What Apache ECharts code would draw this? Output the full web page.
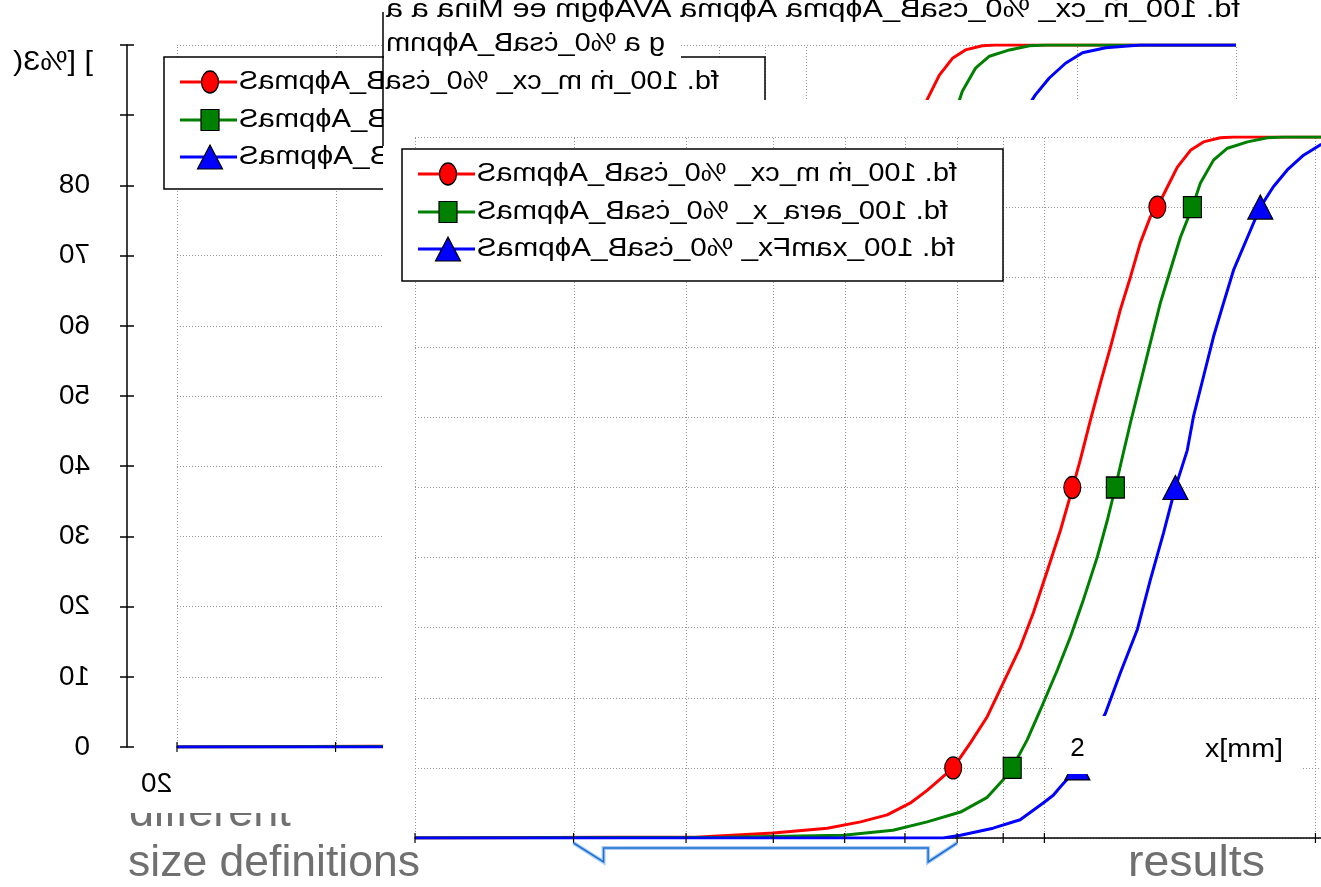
<!DOCTYPE html>
<html>
<head>
<meta charset="utf-8">
<script src="https://cdn.jsdelivr.net/npm/echarts@6/dist/echarts.min.js"></script>
<style>html,body{margin:0;padding:0;background:#fff;}#c{width:1321px;height:887px;}</style>
</head>
<body>
<div id="c"></div>
<script>
// ---------------- data ----------------
const sizeA = [0.2, 0.33, 0.41, 0.5, 0.574, 0.625, 0.669, 0.71, 0.741, 0.792, 0.828, 0.864, 0.9, 0.94, 0.972, 1.008, 1.042, 1.074, 1.096, 1.125, 1.154, 1.184, 1.214, 1.246, 1.278, 1.311, 1.335, 1.37, 1.405, 1.453, 1.502, 1.568, 1.622, 3];
const q3A   = [0, 0.1, 0.1, 0.7, 1.4, 2.3, 3.3, 5.0, 6.8, 10.0, 13.6, 17.3, 22.1, 27.2, 32.1, 38.2, 43.9, 49.8, 53.9, 59.6, 64.9, 70.0, 75.3, 80.0, 84.9, 88.6, 90.0, 92.9, 95.7, 98.1, 99.3, 99.9, 100, 100];
const sizeB = [0.2, 0.444, 0.598, 0.679, 0.741, 0.807, 0.864, 0.9, 0.921, 0.957, 0.99, 1.034, 1.069, 1.105, 1.145, 1.175, 1.199, 1.222, 1.246, 1.278, 1.311, 1.345, 1.38, 1.416, 1.46, 1.49, 1.541, 1.597, 1.681, 1.769, 1.843, 3];
const q3B   = [0, 0.1, 0.4, 1.1, 2.3, 3.7, 5.8, 8.3, 10.0, 14.0, 18.3, 24.0, 28.7, 34.0, 40.1, 45.4, 50.0, 54.6, 59.2, 64.9, 70.6, 76.3, 81.0, 85.7, 90.0, 93.4, 96.7, 98.4, 99.3, 99.9, 100, 100];
const sizeC = [0.2, 0.772, 0.807, 0.877, 0.94, 0.997, 1.023, 1.042, 1.088, 1.169, 1.214, 1.268, 1.311, 1.356, 1.398, 1.441, 1.464, 1.502, 1.541, 1.581, 1.622, 1.681, 1.737, 1.796, 1.861, 1.94, 2.026, 2.15, 2.35, 3];
const q3C   = [0, 0, 0.4, 1.4, 2.6, 5.0, 6.1, 7.3, 10.0, 17.8, 23.5, 29.7, 36.8, 43.5, 50.0, 55.3, 60.1, 65.8, 71.5, 76.3, 81.0, 85.7, 90.0, 92.9, 95.3, 97.4, 98.9, 99.6, 100, 100];

const markerQ3 = [10, 50, 90];
const markerA = [0.792, 1.074, 1.335];
const markerB = [0.921, 1.199, 1.46];
const markerC = [1.088, 1.398, 1.737];

const gridSizes = [0.2, 0.3, 0.4, 0.5, 0.6, 0.7, 0.8, 0.9, 1, 2, 3];
const bgYLabelValues = [0, 10, 20, 30, 40, 50, 60, 70, 80];
const bgYLabelMirrored = [true, true, true, true, true, true, true, true, false];
const bgXLabelLeft = '20';      // drawn mirrored under x = 0.2
const bgXLabelMid = '2';        // at x = 2
const bgXLabelMidValue = 2;
const xAxisName = 'x[mm]';
const yAxisName = '] [%3(';     // drawn mirrored
const legendNames = ['fd. 100_ṁ m_cx_ %0_ċsaB_AɸpmaS', 'fd. 100_aera_x_ %0_ċsaB_AɸpmaS', 'fd. 100_xamFx_ %0_ċsaB_AɸpmaS'];
const titleText = 'fd. 100_ṁ_cx_ %0_ċsaB_Aɸpma Aɸpma AVAɸgm ee Mina a a';
const subtitleText = 'g a %0_ċsaB_Aɸpnm';
const noteLeft = ['different', 'size definitions'];
const noteRight = 'results';
const bracketFrom = 0.3, bracketTo = 0.8;

// ---------------- layout / style ----------------
const FONT = 'Liberation Sans';
const BG = {left: 177, top: 45, width: 1059, height: 702};
const DX = 238, DY = 92;
const IN = {left: BG.left + DX, top: BG.top + DY, width: BG.width, height: 701};
const LEG = {x: 402, y: 149, w: 601, h: 132, rows: [174, 212, 249], lx1: 418, lx2: 475, mx: 448, tx: 477, tr: [957, 948, 955]};
const GRIDCOL = '#959595';

const samples = [
  {x: sizeA, y: q3A, mx: markerA, color: '#ff0000', symbol: 'circle', size: [17, 22]},
  {x: sizeB, y: q3B, mx: markerB, color: '#008000', symbol: 'rect', size: [18, 21]},
  {x: sizeC, y: q3C, mx: markerC, color: '#0000ff', symbol: 'triangle', size: [25, 24]}
];

const chart = echarts.init(document.getElementById('c'), null, {renderer: 'canvas', width: 1321, height: 887});

function xAxisDef(gi, z) {
  return {type: 'log', logBase: 10, gridIndex: gi, min: 0.2, max: 3, z: z,
    axisLine: {show: true, onZero: false, lineStyle: {color: '#000', width: 1.5}},
    axisTick: {show: false}, axisLabel: {show: false}, splitLine: {show: false}, minorTick: {show: false}, minorSplitLine: {show: false}};
}
function gridLineSeries(xi, yi, z) {
  return {type: 'custom', xAxisIndex: xi, yAxisIndex: yi, z: z, silent: true, clip: false,
    data: gridSizes.map(v => [v, 0]),
    renderItem: (p, api) => {
      const a = api.coord([api.value(0), 0]), b = api.coord([api.value(0), 100]);
      return {type: 'line', shape: {x1: Math.round(a[0]) + 0.5, y1: a[1], x2: Math.round(b[0]) + 0.5, y2: b[1]},
        style: {stroke: GRIDCOL, lineWidth: 1, lineDash: [1, 2]}};
    }};
}
function tickSeries(xi, yi, z) {
  return {type: 'custom', xAxisIndex: xi, yAxisIndex: yi, z: z, silent: true, clip: false,
    data: gridSizes.map(v => [v, 0]),
    renderItem: (p, api) => {
      const a = api.coord([api.value(0), 0]);
      return {type: 'line', shape: {x1: a[0], y1: a[1] - 5, x2: a[0], y2: a[1] + 5},
        style: {stroke: '#000', lineWidth: 1.2}};
    }};
}
function dataSeries(xi, yi, zLine, zMark) {
  const out = [];
  samples.forEach(s => {
    out.push({type: 'line', xAxisIndex: xi, yAxisIndex: yi, z: zLine, silent: true, showSymbol: false, symbol: 'none',
      data: s.x.map((v, i) => [v, s.y[i]]), lineStyle: {color: s.color, width: 3}});
  });
  samples.forEach(s => {
    out.push({type: 'scatter', xAxisIndex: xi, yAxisIndex: yi, z: zMark, silent: true,
      symbol: s.symbol, symbolSize: s.size,
      data: s.mx.map((v, i) => [v, markerQ3[i]]),
      itemStyle: {color: s.color, borderColor: '#000', borderWidth: 1.2, opacity: 1}});
  });
  return out;
}
const splitDotted = {show: true, lineStyle: {type: [1, 2], color: GRIDCOL, width: 1}};

const option = {
  animation: false,
  backgroundColor: '#ffffff',
  grid: [
    {left: BG.left, top: BG.top, width: BG.width, height: BG.height, outerBoundsMode: 'none', containLabel: false},
    {left: IN.left, top: IN.top, width: IN.width, height: IN.height, outerBoundsMode: 'none', containLabel: false}
  ],
  xAxis: [xAxisDef(0, 0), xAxisDef(1, 6)],
  yAxis: [
    {type: 'value', gridIndex: 0, min: 0, max: 100, interval: 10, position: 'left', offset: 50, z: 0,
      axisLine: {show: true, onZero: false, lineStyle: {color: '#000', width: 1.5}},
      axisTick: {show: true, inside: false, length: 7, lineStyle: {color: '#000', width: 1.5}},
      axisLabel: {show: false}, splitLine: splitDotted},
    {type: 'value', gridIndex: 0, min: 0, max: 100, interval: 10, position: 'left', offset: 50, z: 0,
      axisLine: {show: false},
      axisTick: {show: true, inside: true, length: 7, lineStyle: {color: '#000', width: 1.5}},
      axisLabel: {show: false}, splitLine: {show: false}},
    {type: 'value', gridIndex: 1, min: 0, max: 100, interval: 10, z: 6,
      axisLine: {show: false}, axisTick: {show: false}, axisLabel: {show: false}, splitLine: splitDotted}
  ],
  series: [].concat(
    [gridLineSeries(0, 0, 1)],
    dataSeries(0, 0, 2, 3),
    [tickSeries(0, 0, 3)],
    [gridLineSeries(1, 2, 6)],
    dataSeries(1, 2, 7, 8),
    [tickSeries(1, 2, 7.5)]
  )
};
chart.setOption(option);

// ---------------- text helpers ----------------
const ctx2d = document.createElement('canvas').getContext('2d');
function measure(t, size) { ctx2d.font = size + 'px "' + FONT + '"'; return ctx2d.measureText(t).width; }
let z2c = 0;
function textEl(o) {
  const w = measure(o.text, o.size);
  const s = (o.right != null) ? (o.right - o.left) / w : 1;
  return {type: 'text', x: o.left, y: o.cy, scaleX: o.mirror ? -s : s, scaleY: o.sy || 1, z: o.z, z2: ++z2c, silent: true,
    style: {text: o.text, fontSize: o.size, fontFamily: FONT, fill: o.fill || '#000',
      align: o.mirror ? 'right' : 'left', verticalAlign: 'middle'}};
}
function markerEl(s, cx, cy, z) {
  const w = s.size[0], h = s.size[1];
  const style = {fill: s.color, stroke: '#000', lineWidth: 1.2};
  if (s.symbol === 'circle') return {type: 'circle', x: cx, y: cy, scaleY: h / w, shape: {cx: 0, cy: 0, r: w / 2}, style, z, z2: ++z2c, silent: true};
  if (s.symbol === 'rect') return {type: 'rect', shape: {x: cx - w / 2, y: cy - h / 2, width: w, height: h}, style, z, z2: ++z2c, silent: true};
  return {type: 'polygon', shape: {points: [[cx, cy - h / 2], [cx + w / 2, cy + h / 2], [cx - w / 2, cy + h / 2]]}, style, z, z2: ++z2c, silent: true};
}
function legendEls(ox, oy, z) {
  const els = [];
  els.push({type: 'rect', shape: {x: LEG.x + ox, y: LEG.y + oy, width: LEG.w, height: LEG.h},
    style: {fill: '#fff', stroke: '#000', lineWidth: 1.5}, z, z2: ++z2c, silent: true});
  samples.forEach((s, i) => {
    const cy = LEG.rows[i] + oy;
    els.push({type: 'line', shape: {x1: LEG.lx1 + ox, y1: cy, x2: LEG.lx2 + ox, y2: cy}, style: {stroke: s.color, lineWidth: 3}, z, z2: ++z2c, silent: true});
    els.push(markerEl(s, LEG.mx + ox, cy, z));
    els.push(textEl({text: legendNames[i], left: LEG.tx + ox, right: LEG.tr[i] + ox, cy: cy, size: 25, mirror: true, z}));
  });
  return els;
}
const px = (xi, v) => chart.convertToPixel({xAxisIndex: xi}, v);
const py = (yi, v) => chart.convertToPixel({yAxisIndex: yi}, v);

// ---------------- graphic layers ----------------
const g = [];
// background chart legend
g.push(...legendEls(-DX, -DY, 4));
// background chart title rows
g.push(textEl({text: titleText, left: 386, right: 1240, cy: 10, size: 25, mirror: true, z: 4.5}));
g.push({type: 'rect', shape: {x: 384, y: 29, width: 297, height: 30}, style: {fill: '#fff'}, z: 4.5, z2: ++z2c, silent: true});
g.push(textEl({text: subtitleText, left: 386, right: 665, cy: 44, size: 25, mirror: true, z: 4.5}));
// background y axis name + tick labels
g.push(textEl({text: yAxisName, left: 13, right: 93, cy: 62, size: 28, mirror: true, z: 4}));
bgYLabelValues.forEach((v, i) => {
  const t = String(v), w = measure(t, 28);
  g.push(textEl({text: t, left: 90 - w, right: 90, cy: py(0, v), size: 28, mirror: bgYLabelMirrored[i], z: 4}));
});
// white panel behind the inset chart
g.push({type: 'rect', shape: {x: 383, y: 100, width: 940, height: 790}, style: {fill: '#fff'}, z: 5, z2: ++z2c, silent: true});
// inset legend
g.push(...legendEls(0, 0, 9));
// background x-axis labels with their white box, over the inset
g.push({type: 'rect', shape: {x: 1053, y: 716, width: 250, height: 58}, style: {fill: '#fff'}, z: 10, z2: ++z2c, silent: true});
{
  const xm = px(0, bgXLabelMidValue), w2 = measure(bgXLabelMid, 26);
  g.push(textEl({text: bgXLabelMid, left: xm - w2 / 2, cy: 749, size: 26, z: 10}));
  g.push(textEl({text: xAxisName, left: 1205, right: 1283, cy: 750, size: 26, z: 10}));
}
// bottom annotations
g.push(textEl({text: noteLeft[0], left: 129, cy: 814, size: 45, fill: '#707070', z: 10}));
g.push({type: 'rect', shape: {x: 100, y: 780, width: 282, height: 33}, style: {fill: '#fff'}, z: 11, z2: ++z2c, silent: true});
g.push(textEl({text: noteLeft[1], left: 128, right: 420, cy: 864, size: 45, fill: '#707070', z: 10}));
g.push(textEl({text: noteRight, left: 1128, right: 1265, cy: 864, size: 45, fill: '#707070', z: 10}));
{
  const x0 = px(0, 0.2), w0 = measure(bgXLabelLeft, 28);
  g.push(textEl({text: bgXLabelLeft, left: x0 - 36, right: x0 - 36 + w0, cy: py(0, 0) + 37, size: 28, mirror: true, z: 12}));
}
{
  const b1 = px(1, bracketFrom), b2 = px(1, bracketTo), by = py(2, 0);
  const pts = [[b1, by + 5], [b1 + 30, by + 24], [b1 + 30, by + 10], [b2 - 29, by + 10], [b2 - 29, by + 24], [b2, by + 5]];
  g.push({type: 'polyline', shape: {points: pts}, style: {stroke: '#a9cdf2', lineWidth: 4, fill: null}, z: 10, z2: ++z2c, silent: true});
  g.push({type: 'polyline', shape: {points: pts}, style: {stroke: '#1f6fd0', lineWidth: 1.5, fill: null}, z: 10, z2: ++z2c, silent: true});
}
// frame edge at the left of the inset panel
g.push({type: 'line', shape: {x1: 383, y1: 12, x2: 383, y2: 146}, style: {stroke: '#000', lineWidth: 1.5}, z: 12, z2: ++z2c, silent: true});

chart.setOption({graphic: {elements: g}});
</script>
</body>
</html>
